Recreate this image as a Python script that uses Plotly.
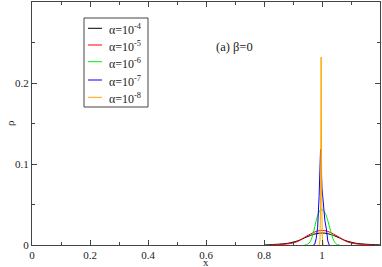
import plotly.graph_objects as go

# ---- data ----
labels = ["α=10<sup>-4</sup>", "α=10<sup>-5</sup>", "α=10<sup>-6</sup>",
          "α=10<sup>-7</sup>", "α=10<sup>-8</sup>"]
colors = ["#000000", "#ff0000", "#00ee00", "#0000ff", "#ffa500"]

x_a4 = [0.80, 0.85, 0.88, 0.90, 0.92, 0.94, 0.96, 0.98, 1.00, 1.02, 1.04, 1.06, 1.08, 1.10, 1.12, 1.15, 1.20]
y_a4 = [0.0000, 0.0010, 0.0020, 0.0035, 0.0056, 0.0088, 0.0118, 0.0140, 0.0148, 0.0140, 0.0118, 0.0088, 0.0056, 0.0035, 0.0020, 0.0010, 0.0001]

x_a5 = [0.82, 0.85, 0.88, 0.90, 0.92, 0.94, 0.96, 0.98, 1.00, 1.02, 1.04, 1.06, 1.08, 1.10, 1.12, 1.15, 1.18]
y_a5 = [0.0000, 0.0005, 0.0013, 0.0025, 0.0050, 0.0095, 0.0135, 0.0168, 0.0180, 0.0168, 0.0135, 0.0095, 0.0050, 0.0025, 0.0013, 0.0005, 0.0000]

x_a6 = [0.94, 0.95, 0.96, 0.97, 0.98, 0.99, 0.998, 1.01, 1.02, 1.03, 1.04, 1.05, 1.06]
y_a6 = [0.0000, 0.0010, 0.0045, 0.0150, 0.0300, 0.0410, 0.0440, 0.0400, 0.0300, 0.0170, 0.0060, 0.0010, 0.0000]

x_a7 = [0.970, 0.975, 0.980, 0.985, 0.990, 0.995, 1.000, 1.005, 1.010, 1.015, 1.020, 1.025]
y_a7 = [0.000, 0.001, 0.008, 0.022, 0.060, 0.118, 0.070, 0.045, 0.030, 0.020, 0.005, 0.000]

x_a8 = [0.990, 0.993, 0.995, 0.997, 0.999, 1.001, 1.004]
y_a8 = [0.000, 0.005, 0.050, 0.232, 0.060, 0.010, 0.000]

xs = [x_a4, x_a5, x_a6, x_a7, x_a8]
ys = [y_a4, y_a5, y_a6, y_a7, y_a8]
shapes_line = ["spline", "spline", "spline", "linear", "linear"]

x_tickvals = [0, 0.2, 0.4, 0.6, 0.8, 1.0]
x_ticktext = ["0", "0.2", "0.4", "0.6", "0.8", "1"]
y_tickvals = [0, 0.1, 0.2]
y_ticktext = ["0", "0.1", "0.2"]

FONT = "Liberation Serif"
AX = "#444444"
TXT = "#222222"

fig = go.Figure()
for x, y, lab, c, sh in zip(xs, ys, labels, colors, shapes_line):
    fig.add_trace(go.Scatter(x=x, y=y, mode="lines", name=lab, showlegend=False,
                             line=dict(color=c, width=1, shape=sh)))

axis_common = dict(showline=True, linecolor=AX, linewidth=1, mirror="allticks",
                   ticks="inside", ticklen=5, tickcolor=AX, showgrid=False,
                   zeroline=False, automargin=False,
                   tickfont=dict(family=FONT, size=11, color=TXT))

fig.update_xaxes(range=[0, 1.2], tickvals=x_tickvals, ticktext=x_ticktext,
                 minor=dict(ticks="inside", ticklen=3, tickcolor=AX, dtick=0.1, tick0=0),
                 **axis_common)
fig.update_yaxes(range=[0, 0.3], tickvals=y_tickvals, ticktext=y_ticktext,
                 minor=dict(ticks="inside", ticklen=3, tickcolor=AX, dtick=0.05, tick0=0),
                 **axis_common)

# axis titles
fig.add_annotation(x=0.5, y=-0.072, xref="paper", yref="paper", text="x",
                   xanchor="center", yanchor="middle",
                   showarrow=False, font=dict(family=FONT, size=11, color=TXT))
fig.add_annotation(x=-0.063, y=0.502, xref="paper", yref="paper", text="ρ",
                   xanchor="center", yanchor="middle",
                   textangle=-90, showarrow=False, font=dict(family=FONT, size=11, color=TXT))

fig.add_annotation(x=0.697, y=0.245, xref="x", yref="y", text="(a) β=0",
                   xanchor="center", yanchor="middle",
                   showarrow=False, font=dict(family=FONT, size=12.5, color=TXT))

# legend drawn in paper coordinates (plot area: 348 x 243 px)
PW, PH, L, B = 348.0, 243.0, 32.0, 245.0
def px(xp):
    return (xp - L) / PW
def py(yp):
    return (B - yp) / PH

fig.add_shape(type="rect", xref="paper", yref="paper",
              x0=px(84), x1=px(148), y0=py(107), y1=py(18),
              line=dict(color=AX, width=1), fillcolor="white", layer="above")
row_y = [28.3, 45.0, 61.7, 80.0, 97.3]
for lab, c, ry in zip(labels, colors, row_y):
    fig.add_shape(type="line", xref="paper", yref="paper",
                  x0=px(88), x1=px(102), y0=py(ry), y1=py(ry),
                  line=dict(color=c, width=1), layer="above")
    fig.add_annotation(x=px(107), y=py(ry + 1.5), xref="paper", yref="paper",
                       text=lab, xanchor="left", yanchor="middle", showarrow=False,
                       font=dict(family=FONT, size=12, color=TXT))

fig.update_layout(
    width=382, height=267,
    margin=dict(l=32, r=2, t=2, b=22),
    plot_bgcolor="white", paper_bgcolor="white",
    showlegend=False,
)

fig.write_html("out.html", config={"displayModeBar": False},
               post_script="document.body.style.margin='0';")
